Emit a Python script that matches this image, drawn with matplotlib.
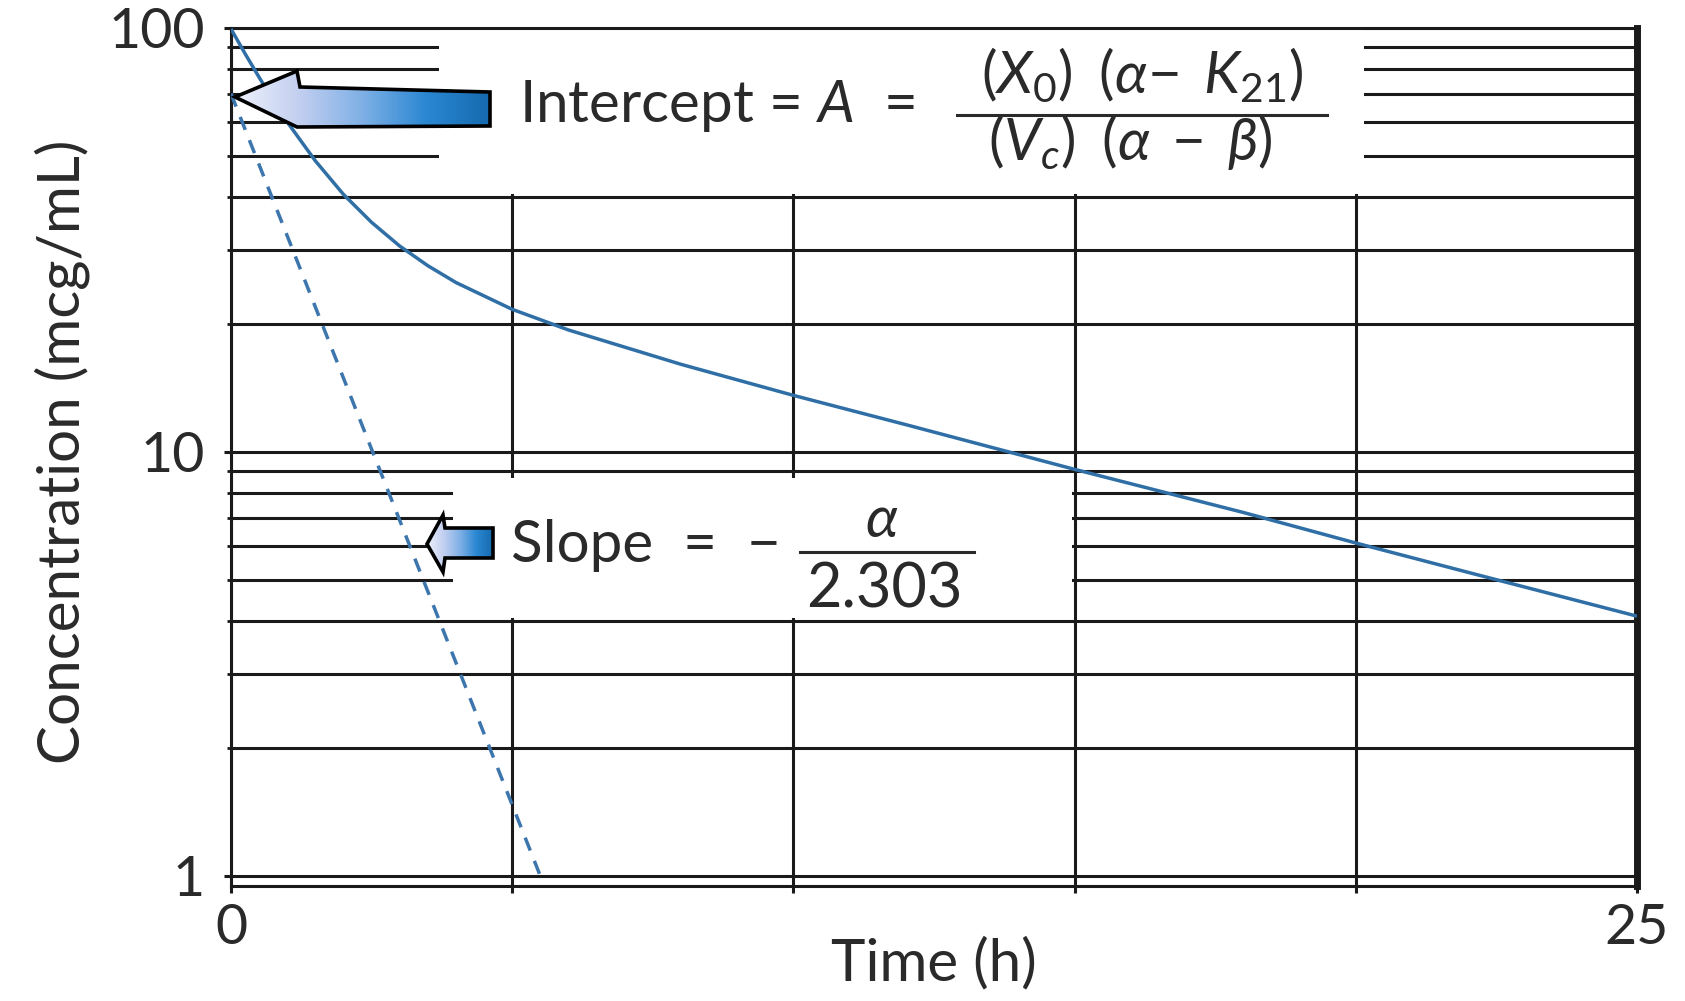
import numpy as np
import matplotlib
matplotlib.use("Agg")
import matplotlib.pyplot as plt
from matplotlib.patches import Rectangle, Polygon
from matplotlib.ticker import FixedLocator, FixedFormatter, LogLocator, NullFormatter
from matplotlib.colors import LinearSegmentedColormap

# ---------------- data ----------------
time_h = [0, 0.25, 0.5, 0.75, 1, 1.5, 2, 2.5, 3, 3.5, 4, 5, 6, 8, 10, 12, 15, 18, 20, 22, 25]
conc = [99.5, 87, 76.5, 67.5, 60, 48.6, 40.5, 34.8, 30.6, 27.5, 25.1, 21.7, 19.4,
        16.1, 13.6, 11.6, 9.1, 7.2, 6.1, 5.2, 4.1]
alpha_time = [0, 5.5]
alpha_conc = [70, 1.0]
x_ticks = [0, 5, 10, 15, 20, 25]
x_labels = ["0", "", "", "", "", "25"]
y_ticks = [1, 10, 100]
y_labels = ["1", "10", "100"]

plt.rcParams["font.family"] = ["Lato", "DejaVu Sans"]
plt.rcParams["font.weight"] = "normal"
plt.rcParams["mathtext.fontset"] = "custom"
plt.rcParams["mathtext.rm"] = "Lato"
plt.rcParams["mathtext.it"] = "Lato:italic"
plt.rcParams["mathtext.bf"] = "Lato:bold"
plt.rcParams["mathtext.fallback"] = "cm"
plt.rcParams["lines.scale_dashes"] = False

W, H = 1685, 1001
INK = "#1a1a1a"
TXT = "#2a2a2a"
fig = plt.figure(figsize=(W / 100, H / 100), dpi=100)
ax = fig.add_axes([231 / W, 1 - 886 / H, (1637 - 231) / W, (886 - 28) / H])
ax.set_yscale("log")
ax.set_xlim(0, 25)
ax.set_ylim(0.947, 100)

ax.xaxis.set_major_locator(FixedLocator(x_ticks))
ax.xaxis.set_major_formatter(FixedFormatter(x_labels))
ax.yaxis.set_major_locator(FixedLocator(y_ticks))
ax.yaxis.set_major_formatter(FixedFormatter(y_labels))
ax.yaxis.set_minor_locator(LogLocator(base=10, subs=np.arange(2, 10)))
ax.yaxis.set_minor_formatter(NullFormatter())

ax.set_axisbelow(True)
ax.grid(which="both", axis="y", color=INK, lw=2.2)
ax.grid(which="major", axis="x", color=INK, lw=2.2)
for s in ax.spines.values():
    s.set_color(INK)
    s.set_linewidth(2.2)
ax.spines["right"].set_linewidth(5)

ax.tick_params(axis="both", which="major", direction="out", length=5, width=2.2,
               color=INK, labelsize=40, labelcolor=TXT)
ax.tick_params(axis="y", which="minor", direction="out", length=3, width=2, color=INK)
ax.tick_params(axis="x", pad=7)
ax.tick_params(axis="y", pad=14)

# white masks behind the annotations
ax.add_patch(Rectangle((3.7, 40.6), 20.15 - 3.7, 99.3 - 40.6, fc="white", ec="none", zorder=1))
ax.add_patch(Rectangle((3.95, 4.07), 14.95 - 3.95, 8.7 - 4.07, fc="white", ec="none", zorder=1))

# data lines
ax.plot(time_h, conc, color="#2f6fa6", lw=2.5, zorder=3, solid_capstyle="butt")
ax.plot(alpha_time, alpha_conc, color="#3d76ad", lw=2.5, dashes=(10, 8), zorder=3)

ax.set_xlabel("Time (h)", fontsize=42, color=TXT, fontweight="normal")
ax.xaxis.set_label_coords(0.5, -0.059)
ax.set_ylabel("Concentration (mcg/mL)", fontsize=42, color=TXT, fontweight="normal")
ax.yaxis.set_label_coords(-0.1003, 0.506)

# ---------------- overlay for annotations (pixel coords) ----------------
ov = fig.add_axes([0, 0, 1, 1])
ov.patch.set_alpha(0)
ov.axis("off")

cmap = LinearSegmentedColormap.from_list(
    "arr", ["#eef2fc", "#c3cff0", "#7fb0e6", "#2a87d2", "#166aae"])
grad = np.linspace(0, 1, 256).reshape(1, -1)


def block_arrow(verts):
    xs = [v[0] for v in verts]
    ys = [v[1] for v in verts]
    poly = Polygon(verts, closed=True, fc="none", ec="black", lw=2.6,
                   joinstyle="miter", zorder=5)
    ov.add_patch(poly)
    im = ov.imshow(grad, cmap=cmap, extent=(min(xs), max(xs), max(ys), min(ys)),
                   aspect="auto", zorder=4, interpolation="bicubic")
    im.set_clip_path(poly)


block_arrow([(235, 97), (297, 71), (300, 87), (490, 92), (490, 126), (297, 127)])
block_arrow([(427, 544), (443, 515), (445, 528), (493, 528), (493, 558), (445, 558), (443, 572)])

ov.text(519, 122, "Intercept = $A$  =", fontsize=42, color=TXT, ha="left", va="baseline")
ov.text(1142, 93, r"$(X_0)\;\;(\alpha\!-\;K_{21})$", fontsize=42, color=TXT,
        ha="center", va="baseline")
ov.plot([957, 1327], [115, 115], color=TXT, lw=2.2)
ov.text(1130, 160, r"$(V_c)\;\;(\alpha\;-\;\beta)$", fontsize=42, color=TXT,
        ha="center", va="baseline")

ov.text(511, 562, "Slope  =  \u2212", fontsize=42, color=TXT, ha="left", va="baseline")
ov.text(882, 537, r"$\alpha$", fontsize=42, color=TXT, ha="center", va="baseline")
ov.plot([800, 974], [552, 552], color=TXT, lw=2.2)
ov.text(884, 607, "2.303", fontsize=44, color=TXT, ha="center", va="baseline")

ov.set_xlim(0, W)
ov.set_ylim(H, 0)

fig.savefig("out.png", dpi=100, facecolor="white")
